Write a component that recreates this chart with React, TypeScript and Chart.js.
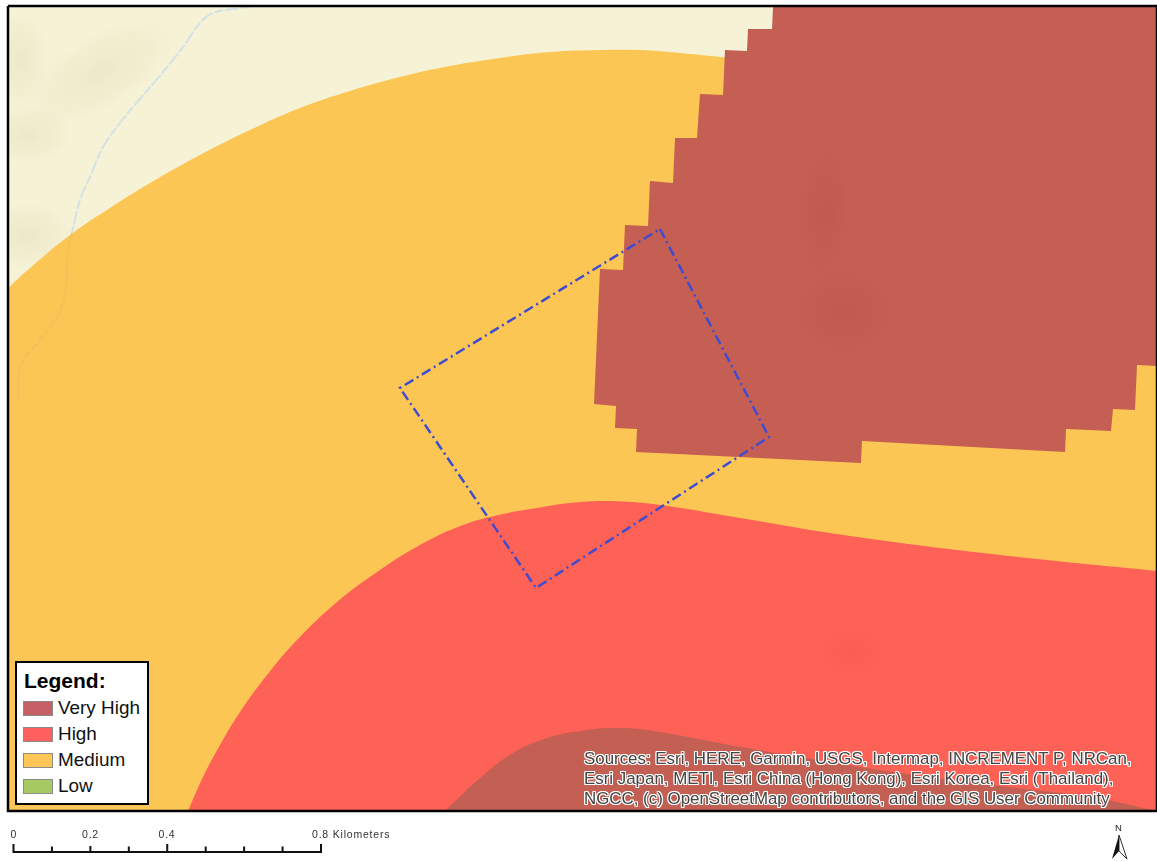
import React, { useEffect, useRef } from "react";
import { Chart, registerables } from "chart.js";

Chart.register(...registerables);

type P = { x: number; y: number };
const pts = (a: number[][]): P[] => a.map(([x, y]) => ({ x, y }));

// Map zones as [easting, southing] vertices
const basemapZone = [[8, 6], [1157, 6], [1157, 811], [8, 811], [8, 6]];
const mediumCurve = [
  [8, 288], [30, 268], [70, 235], [110, 208], [150, 183], [200, 155], [250, 130], [300, 108], [350, 91],
  [400, 77], [450, 66], [500, 58], [550, 52], [600, 50], [640, 50], [680, 53], [730, 58],
];
const mediumCorners = [[1157, 58], [1157, 811], [8, 811], [8, 288]];
const highCurve = [
  [188, 811], [203, 777], [220, 745], [240, 712], [267, 675], [297, 640], [337, 602], [377, 572], [420, 545],
  [463, 525], [503, 514], [537, 508], [570, 503], [610, 501], [660, 505], [740, 518], [850, 536], [1000, 555],
  [1157, 571],
];
const highCorners = [[1157, 811], [188, 811]];
const veryHighNorth = [
  [773, 7], [772, 29], [748, 29], [747, 51], [725, 50], [723, 95], [700, 94], [697, 138], [675, 138], [673, 183],
  [650, 181], [648, 226], [625, 225], [623, 270], [600, 269], [594, 404], [616, 406], [615, 428], [637, 429],
  [636, 452], [861, 463], [862, 441], [1065, 452], [1066, 429], [1111, 431], [1113, 409], [1135, 410], [1137, 365],
  [1157, 366], [1157, 7], [773, 7],
];
const veryHighSouthCurve = [
  [445, 811], [480, 778], [513, 753], [547, 738], [580, 731], [612, 728], [647, 730], [730, 745], [800, 757],
  [900, 773], [1000, 786], [1090, 797], [1157, 811],
];
const veryHighSouthCorners = [[445, 811]];
const streamOnBasemap = [
  [250, 7], [240, 8], [213, 13], [200, 23], [183, 47], [163, 72], [133, 107], [120, 123], [103, 147], [90, 177], [80, 200], [72, 233],
];
const streamUnderMedium = [
  [72, 233], [68, 253], [65, 293], [57, 317], [40, 340], [22, 363], [18, 390], [19, 402],
];
const studyArea = [[660, 229], [769, 437], [536, 588], [400, 388], [660, 229]];
const arrowLeft = [[1119, 835], [1112, 859], [1119, 851], [1119, 835]];
const arrowRight = [[1119, 835], [1127, 859], [1119, 851], [1119, 835]];

// Soft terrain shading seen through the zones: [x, y, radiusX, radiusY, rotation]
const basemapShade = [[100, 72, 85, 38, -0.55], [28, 135, 45, 30, 0], [28, 235, 45, 35, 0], [20, 60, 30, 50, 0]];
const veryHighShade = [[824, 212, 26, 70, 0.05], [845, 312, 55, 45, 0]];
const highShade = [[852, 652, 30, 26, 0]];

// Scale bar
const scaleKm = [0, 0.1, 0.2, 0.3, 0.4, 0.5, 0.6, 0.7, 0.8];
const scaleTickTop = [844, 846.5, 846, 846.5, 844, 846.5, 846.5, 846.5, 844];
const scaleBaseline = 852;

// Texts
const legendTitle = "Legend:";
const legendLabels = ["Very High", "High", "Medium", "Low"];
const legendColours = ["#c76066", "#fe5f5f", "#fdc656", "#a6c962"];
const sourceLines = [
  "Sources: Esri, HERE, Garmin, USGS, Intermap, INCREMENT P, NRCan,",
  "Esri Japan, METI, Esri China (Hong Kong), Esri Korea, Esri (Thailand),",
  "NGCC, (c) OpenStreetMap contributors, and the GIS User Community",
];
const scaleLabels = ["0", "0.2", "0.4", "0.8 Kilometers"];

const sharpen = (curve: number[][], corners: number[][]) => {
  const first = curve[0];
  const last = curve[curve.length - 1];
  return [first, ...curve, last, ...corners.flatMap((c) => [c, c])];
};

const poly = (label: string, data: number[][], color: string, tension = 0) => ({
  label, data: pts(data), showLine: true, fill: "shape" as const, backgroundColor: color,
  borderColor: color, borderWidth: 0, pointRadius: 0, tension,
});
const line = (label: string, data: number[][], color: string, width: number, dash: number[] = [], tension = 0) => ({
  label, data: pts(data), showLine: true, fill: false, borderColor: color, borderWidth: width,
  borderDash: dash, pointRadius: 0, tension,
});

const shadePlugin = {
  id: "terrainShade",
  afterDatasetDraw(chart: any, args: any) {
    const label = chart.data.datasets[args.index].label;
    const spec =
      label === "Basemap" ? { spots: basemapShade, rgb: "205,195,140", a: 0.2 } :
      label === "Very High" ? { spots: veryHighShade, rgb: "176,78,66", a: 0.26 } :
      label === "High" ? { spots: highShade, rgb: "240,80,70", a: 0.25 } : null;
    if (!spec) return;
    const { ctx, scales, chartArea } = chart;
    ctx.save();
    ctx.beginPath();
    ctx.rect(scales.x.getPixelForValue(8), scales.y.getPixelForValue(6), chartArea.right, scales.y.getPixelForValue(805));
    ctx.clip();
    for (const [x, y, rx, ry, rot] of spec.spots) {
      ctx.save();
      ctx.translate(scales.x.getPixelForValue(x), scales.y.getPixelForValue(y));
      ctx.rotate(rot);
      ctx.scale(rx, ry);
      const g = ctx.createRadialGradient(0, 0, 0, 0, 0, 1);
      g.addColorStop(0, `rgba(${spec.rgb},${spec.a})`);
      g.addColorStop(0.5, `rgba(${spec.rgb},${spec.a * 0.55})`);
      g.addColorStop(1, `rgba(${spec.rgb},0)`);
      ctx.fillStyle = g;
      ctx.beginPath();
      ctx.arc(0, 0, 1, 0, Math.PI * 2);
      ctx.fill();
      ctx.restore();
    }
    ctx.restore();
  },
};

const halo = [[1, 0], [-1, 0], [0, 1], [0, -1], [1, 1], [-1, -1], [1, -1], [-1, 1]]
  .map(([a, b]) => `${a}px ${b}px 0.5px #fff`).join(",");
const sans = '"Liberation Sans", Arial, sans-serif';

const abs = (left: number, baseline: number, size: number, extra: React.CSSProperties = {}): React.CSSProperties => ({
  position: "absolute", left, top: baseline - size, lineHeight: `${size * 1.2}px`, fontSize: size,
  fontFamily: sans, whiteSpace: "nowrap", ...extra,
});

export default function App() {
  const ref = useRef<HTMLCanvasElement>(null);
  useEffect(() => {
    // Chart.js paints the first dataset on top, so the list runs from top layer to bottom layer.
    const chart = new Chart(ref.current!, {
      type: "scatter",
      plugins: [shadePlugin],
      data: {
        datasets: [
          {
            label: "Scale bar", xAxisID: "km",
            data: [{ x: 0, y: scaleBaseline }, { x: 0.8, y: scaleBaseline }],
            showLine: true, fill: false, borderColor: "#111", borderWidth: 2, pointRadius: 0,
          },
          ...scaleKm.map((km, i) => ({
            label: `Scale ${km}`, xAxisID: "km",
            data: [{ x: km, y: scaleTickTop[i] }, { x: km, y: scaleBaseline + 1 }],
            showLine: true, fill: false, borderColor: "#111", borderWidth: 2, pointRadius: 0,
          })),
          poly("North arrow left", arrowLeft, "#111"),
          line("North arrow right", arrowRight, "#333", 1),
          line("Frame", basemapZone, "#000", 2.5),
          line("Study area", studyArea, "#3f4bd0", 2.5, [10, 4, 2, 4]),
          poly("Very High (south)", sharpen(veryHighSouthCurve, veryHighSouthCorners), "#c36053", 0.4),
          poly("Very High", veryHighNorth, "#c65f53"),
          poly("High", sharpen(highCurve, highCorners), "#fe6156", 0.4),
          line("Stream (under zone)", streamUnderMedium, "#f1bf5d", 1.5, [8, 2], 0.4),
          poly("Medium", sharpen(mediumCurve, mediumCorners), "#fcc655", 0.4),
          line("Stream", streamOnBasemap, "#d3e2e6", 2, [9, 2, 14, 2], 0.4),
          poly("Basemap", basemapZone, "#f5f2d6"),
        ],
      },
      options: {
        animation: false, responsive: false,
        layout: { padding: 0 },
        plugins: { legend: { display: false }, tooltip: { enabled: false }, title: { display: false } },
        scales: {
          x: { type: "linear", min: 0, max: 1157, display: false },
          km: { type: "linear", axis: "x", min: -0.0351, max: 2.9748, display: false },
          y: { type: "linear", min: 0, max: 861, reverse: true, display: false },
        },
      },
    });
    return () => chart.destroy();
  }, []);

  const swatchTops = [701, 727, 753, 779];
  const labelBaselines = [715.5, 742, 768, 794];
  return (
    <div style={{ position: "absolute", left: 0, top: 0, width: 1157, height: 861, overflow: "hidden", background: "#fff" }}>
      <canvas ref={ref} width={1157} height={861} style={{ position: "absolute", left: 0, top: 0, width: 1157, height: 861 }} />
      <div style={{ position: "absolute", left: 15, top: 661, width: 130, height: 140, background: "#fff", border: "2px solid #000" }} />
      <div style={abs(24, 689, 21, { fontWeight: 700, color: "#000" })}>{legendTitle}</div>
      {legendLabels.map((t, i) => (
        <React.Fragment key={t}>
          <div style={{ position: "absolute", left: 23, top: swatchTops[i], width: 28, height: 13, background: legendColours[i], border: "1px solid #8a8a8a" }} />
          <div style={abs(58, labelBaselines[i], 18.9, { color: "#111" })}>{t}</div>
        </React.Fragment>
      ))}
      {sourceLines.map((t, i) => (
        <div key={i} style={abs(584, 765.5 + i * 20, 16.9, { color: "#444", textShadow: halo })}>{t}</div>
      ))}
      <div style={abs(10.5, 838, 10.5, { color: "#333" })}>{scaleLabels[0]}</div>
      <div style={abs(82, 838, 10.5, { color: "#333", letterSpacing: 0.8 })}>{scaleLabels[1]}</div>
      <div style={abs(158.5, 838, 10.5, { color: "#333", letterSpacing: 0.8 })}>{scaleLabels[2]}</div>
      <div style={abs(312, 838, 10.5, { color: "#333", letterSpacing: 0.8 })}>{scaleLabels[3]}</div>
      <div style={abs(1115, 831, 9.5, { color: "#222" })}>N</div>
    </div>
  );
}
